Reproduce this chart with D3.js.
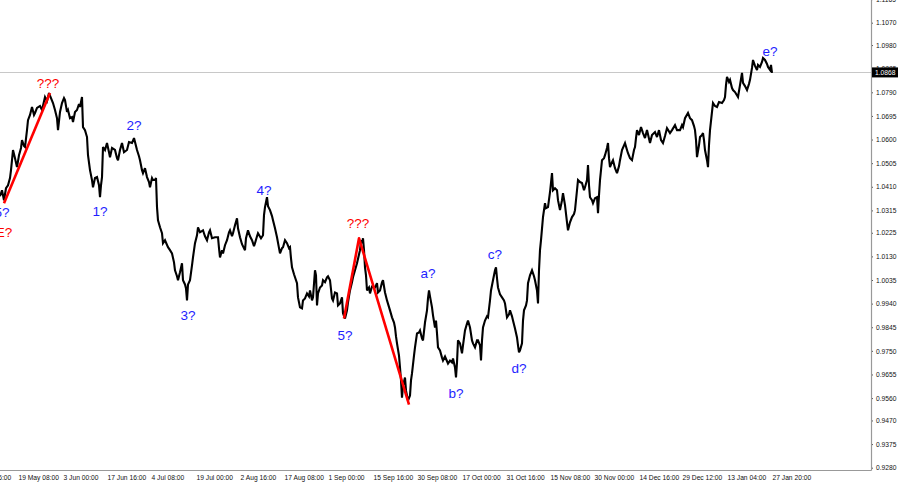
<!DOCTYPE html>
<html><head><meta charset="utf-8">
<script src="https://cdn.jsdelivr.net/npm/d3@7"></script>
<style>body{margin:0;background:#fff}svg{display:block}</style>
</head><body><svg id="c" width="900" height="485"></svg>
<script>
// [bar index, price]
const quotes = [
[0,1.0372],[2,1.0396],[4,1.0356],[6,1.0404],[8,1.0416],[10,1.0445],[11,1.0477],[12,1.0517],[13,1.0558],[15,1.0525],[17,1.0489],[19,1.0537],[21,1.0566],[22,1.0598],[24,1.0574],[25,1.0570],[27,1.0638],[28,1.0678],[30,1.0699],[32,1.0731],[34,1.0699],[35,1.0707],[37,1.0727],[40,1.0735],[42,1.0719],[45,1.0771],[47,1.0755],[49,1.0787],
[51,1.0767],[53,1.0747],[55,1.0719],[57,1.0686],[58,1.0638],[60,1.0711],[62,1.0747],[64,1.0767],[65,1.0759],[67,1.0711],[68,1.0719],[70,1.0686],[72,1.0690],[73,1.0670],[75,1.0711],[77,1.0719],[79,1.0743],[80,1.0731],[82,1.0771],[83,1.0650],[85,1.0638],[87,1.0610],[88,1.0537],[90,1.0477],[92,1.0437],[93,1.0408],[95,1.0445],[97,1.0449],[99,1.0416],[100,1.0368],
[101,1.0416],[102,1.0449],[103,1.0570],[105,1.0558],[107,1.0586],[109,1.0549],[110,1.0529],[112,1.0566],[115,1.0558],[117,1.0525],[118,1.0517],[120,1.0558],[122,1.0586],[124,1.0549],[127,1.0558],[129,1.0590],[132,1.0586],[134,1.0606],[136,1.0574],[137,1.0558],[139,1.0533],[140,1.0517],[142,1.0477],[143,1.0465],[145,1.0485],[147,1.0449],[149,1.0429],[150,1.0408],
[152,1.0445],[153,1.0437],[155,1.0437],[156,1.0445],[157,1.0328],[158,1.0275],[160,1.0247],[162,1.0223],[163,1.0183],[165,1.0195],[168,1.0167],[170,1.0155],[172,1.0142],[174,1.0106],[175,1.0074],[177,1.0050],[178,1.0034],[180,1.0066],[182,1.0102],[183,1.0034],[185,1.0017],[186,1.0001],[187,0.9953],[188,1.0017],[190,1.0034],[192,1.0094],[193,1.0126],[195,1.0183],[197,1.0215],[198,1.0247],
[200,1.0227],[203,1.0235],[205,1.0211],[207,1.0195],[209,1.0227],[210,1.0235],[212,1.0203],[215,1.0207],[218,1.0207],[219,1.0163],[220,1.0126],[222,1.0155],[223,1.0142],[225,1.0175],[227,1.0195],[229,1.0227],[230,1.0235],[232,1.0211],[233,1.0223],[235,1.0255],[237,1.0283],[238,1.0243],[240,1.0207],[242,1.0179],[245,1.0155],[246,1.0203],[248,1.0235],[250,1.0211],
[252,1.0195],[254,1.0171],[255,1.0183],[257,1.0211],[258,1.0223],[261,1.0203],[263,1.0215],[264,1.0296],[265,1.0328],[267,1.0368],[268,1.0332],[270,1.0316],[272,1.0292],[273,1.0275],[275,1.0243],[277,1.0207],[279,1.0163],[280,1.0142],[282,1.0163],[283,1.0167],[285,1.0195],[287,1.0183],[289,1.0163],[290,1.0167],[291,1.0122],[292,1.0086],[294,1.0058],[297,1.0022],[298,0.9965],
[300,0.9925],[302,0.9921],[303,0.9953],[305,0.9961],[307,0.9981],[309,0.9969],[310,0.9993],[312,0.9953],[313,0.9965],[315,1.0074],[316,1.0054],[317,0.9933],[318,0.9981],[320,1.0005],[322,1.0013],[323,1.0034],[325,1.0026],[327,1.0046],[328,1.0050],[330,1.0034],[332,0.9961],[333,0.9953],[335,0.9985],[337,0.9981],[338,0.9933],[340,0.9941],[342,0.9965],[343,0.9901],[345,0.9880],
[347,0.9913],[348,0.9945],[350,0.9993],[352,1.0026],[353,1.0046],[355,1.0074],[357,1.0102],[359,1.0138],[360,1.0155],[361,1.0195],[362,1.0183],[363,1.0203],[364,1.0155],[365,1.0086],[366,1.0054],[367,0.9993],[369,1.0005],[370,0.9981],[372,1.0009],[375,1.0005],[377,1.0022],[378,0.9985],[380,0.9993],[382,1.0026],[383,1.0034],[385,0.9985],[387,0.9953],[390,0.9913],
[392,0.9885],[394,0.9864],[395,0.9844],[396,0.9808],[397,0.9780],[399,0.9731],[400,0.9683],[401,0.9631],[402,0.9562],[403,0.9610],[405,0.9643],[406,0.9590],[408,0.9550],[410,0.9570],[411,0.9631],[412,0.9659],[414,0.9731],[415,0.9764],[417,0.9820],[419,0.9824],[420,0.9832],[422,0.9800],[423,0.9792],[425,0.9864],[427,0.9913],[428,0.9961],[429,0.9993],
[430,0.9969],[432,0.9925],[433,0.9893],[435,0.9844],[436,0.9872],[437,0.9820],[438,0.9764],[440,0.9752],[442,0.9723],[443,0.9711],[445,0.9727],[448,0.9699],[450,0.9711],[452,0.9703],[453,0.9719],[455,0.9683],[456,0.9643],[457,0.9703],[458,0.9792],[460,0.9780],[462,0.9740],[463,0.9772],[465,0.9832],[467,0.9860],[468,0.9872],[470,0.9844],[472,0.9792],[473,0.9780],
[475,0.9764],[477,0.9792],[478,0.9792],[480,0.9772],[481,0.9711],[482,0.9792],[483,0.9844],[485,0.9872],[487,0.9889],[488,0.9885],[490,0.9953],[491,0.9993],[493,1.0034],[495,1.0074],[496,1.0086],[497,1.0042],[498,1.0005],[500,0.9977],[502,0.9965],[504,0.9953],[505,0.9941],[506,0.9913],[507,0.9885],[509,0.9897],[510,0.9913],[512,0.9889],[513,0.9872],
[515,0.9840],[517,0.9804],[518,0.9772],[519,0.9744],[520,0.9752],[522,0.9780],[523,0.9872],[524,0.9913],[526,0.9933],[527,0.9953],[528,1.0022],[530,1.0054],[532,1.0074],[534,1.0050],[535,1.0034],[537,0.9993],[538,0.9941],[539,1.0074],[540,1.0155],[541,1.0195],[543,1.0288],[545,1.0344],[546,1.0324],[548,1.0328],[550,1.0388],[552,1.0465],[553,1.0396],
[555,1.0404],[557,1.0396],[558,1.0356],[560,1.0316],[562,1.0356],[563,1.0384],[565,1.0336],[567,1.0267],[568,1.0235],[570,1.0267],[572,1.0288],[574,1.0300],[575,1.0316],[577,1.0396],[578,1.0437],[580,1.0429],[582,1.0425],[584,1.0396],[585,1.0408],[587,1.0437],[588,1.0497],[589,1.0416],[590,1.0368],[592,1.0356],[593,1.0344],[595,1.0364],[597,1.0368],[598,1.0304],
[599,1.0376],[600,1.0437],[602,1.0517],[604,1.0525],[605,1.0537],[607,1.0566],[608,1.0586],[609,1.0525],[610,1.0489],[612,1.0509],[613,1.0517],[615,1.0485],[617,1.0465],[619,1.0493],[620,1.0517],[622,1.0558],[625,1.0586],[627,1.0558],[628,1.0545],[630,1.0525],[632,1.0517],[634,1.0558],[635,1.0570],[636,1.0606],[637,1.0638],[639,1.0618],[641,1.0650],
[643,1.0626],[645,1.0606],[647,1.0638],[650,1.0586],[652,1.0618],[655,1.0630],[657,1.0610],[659,1.0638],[661,1.0598],[663,1.0586],[665,1.0614],[667,1.0646],[670,1.0626],[672,1.0638],[675,1.0658],[677,1.0638],[680,1.0638],[682,1.0658],[683,1.0650],[685,1.0686],[688,1.0707],[690,1.0686],[692,1.0678],[694,1.0654],[695,1.0638],[696,1.0598],[697,1.0529],
[699,1.0578],[700,1.0610],[702,1.0618],[703,1.0626],[704,1.0598],[705,1.0558],[707,1.0517],[708,1.0489],[709,1.0578],[710,1.0638],[712,1.0711],[713,1.0747],[715,1.0735],[717,1.0731],[719,1.0751],[722,1.0747],[724,1.0759],[725,1.0771],[726,1.0819],[727,1.0852],[729,1.0832],[730,1.0840],[732,1.0807],[733,1.0799],[735,1.0791],[738,1.0771],
[740,1.0819],[742,1.0868],[743,1.0828],[745,1.0815],[747,1.0799],[749,1.0824],[750,1.0840],[752,1.0888],[753,1.0920],[755,1.0896],[757,1.0880],[758,1.0900],[760,1.0892],[762,1.0912],[763,1.0928],[765,1.0920],[767,1.0904],[768,1.0892],[770,1.0880],[771,1.0900],[772,1.0868]
];
const priceTicks = ["1.1165","1.1070","1.0980","1.0885","1.0790","1.0695","1.0600","1.0505","1.0410","1.0315","1.0225","1.0130","1.0035","0.9940","0.9845","0.9750","0.9655","0.9560","0.9470","0.9375","0.9280"];
const timeTickBars = [-28,16,61,105,149,194,238,282,326,371,415,460,504,548,592,637,680,725,770];
const timeTickLabels = ["4 May 16:00","19 May 08:00","3 Jun 00:00","17 Jun 16:00","4 Jul 08:00","19 Jul 00:00","2 Aug 16:00","17 Aug 08:00","1 Sep 00:00","15 Sep 16:00","30 Sep 08:00","17 Oct 00:00","31 Oct 16:00","15 Nov 08:00","30 Nov 00:00","14 Dec 16:00","29 Dec 12:00","13 Jan 04:00","27 Jan 20:00"];
const lastPrice = 1.0868;
const waveLines = [
  [[4,1.0344],[50,1.0787]],
  [[344,0.9880],[359,1.0203],[409,0.9534]]
];
const waveLabelText  = ["5?","E?","???","1?","2?","3?","4?","5?","???","a?","b?","c?","d?","e?"];
const waveLabelBar   = [2,4,48,100,134,188,264,345,358,428,456,495,519,770];
const waveLabelPrice = [1.0288,1.0207,1.0807,1.0292,1.0638,0.9876,1.0376,0.9792,1.0243,1.0042,0.9562,1.0118,0.9659,1.0936];
const waveLabelKind  = ["b","r","r","b","b","b","b","b","r","b","b","b","b","b"];

const plotRight = 871, axisBottom = 470;
const svg = d3.select("#c");
svg.append("rect").attr("width",900).attr("height",485).attr("fill","#fff");

const x = d3.scaleLinear().domain([0,871]).range([0,871]);
const y = d3.scaleLinear().domain([0.9280,1.1070]).range([467.7,22.7]);

// last price line
svg.append("line").attr("x1",0).attr("x2",plotRight).attr("y1",Math.round(y(lastPrice))-0.5).attr("y2",Math.round(y(lastPrice))-0.5)
  .attr("stroke","#c8c8c8").attr("stroke-width",1);

// price path
const line = d3.line().x(d=>x(d[0])).y(d=>y(d[1])).curve(d3.curveLinear);
svg.append("path").datum(quotes).attr("d",line).attr("fill","none").attr("stroke","#000").attr("stroke-width",2.1).attr("stroke-linejoin","miter").attr("stroke-miterlimit",3);

// wave lines
waveLines.forEach(w=>{
  svg.append("path").datum(w).attr("d",line).attr("fill","none").attr("stroke","#ff0000").attr("stroke-width",2.6).attr("stroke-linejoin","round");
});

// wave labels
waveLabelText.forEach((t,i)=>{
  svg.append("text").attr("x",x(waveLabelBar[i])).attr("y",y(waveLabelPrice[i]))
    .attr("text-anchor","middle").attr("font-family","Liberation Sans, Arial, sans-serif").attr("font-size",13.5)
    .attr("fill",waveLabelKind[i]==="r"?"#ff0000":"#1e1eff").text(t);
});

// axes
const fontAxis = "Liberation Sans, Arial, sans-serif";
const yAxis = d3.axisRight(y).tickValues(priceTicks.map(Number)).tickFormat((d,i)=>priceTicks[i]).tickSize(2).tickPadding(3);
const gy = svg.append("g").attr("transform",`translate(${plotRight},0)`).call(yAxis);
gy.select(".domain").remove();
gy.selectAll("line").attr("stroke","#555");
gy.selectAll("text").attr("font-family",fontAxis).attr("font-size",6.7).attr("fill","#111");

const xAxis = d3.axisBottom(x).tickValues(timeTickBars).tickFormat((d,i)=>timeTickLabels[i]).tickSize(0).tickPadding(5);
const gx = svg.append("g").attr("transform",`translate(0,${axisBottom})`).call(xAxis);
gx.select(".domain").remove();
gx.selectAll("text").attr("font-family",fontAxis).attr("font-size",6.7).attr("fill","#111").attr("text-anchor","start").attr("dx",2);

svg.append("line").attr("x1",plotRight+0.5).attr("x2",plotRight+0.5).attr("y1",0).attr("y2",axisBottom+0.5).attr("stroke","#999").attr("stroke-width",1.2);
svg.append("line").attr("x1",0).attr("x2",plotRight+0.5).attr("y1",axisBottom+0.5).attr("y2",axisBottom+0.5).attr("stroke","#999").attr("stroke-width",1.2);

// last price box
const ly = y(lastPrice);
svg.append("rect").attr("x",plotRight+1).attr("y",ly-5.5).attr("width",26).attr("height",10).attr("fill","#000");
svg.append("text").attr("x",plotRight+4).attr("y",ly+2.4).attr("font-family",fontAxis).attr("font-size",6.7).attr("fill","#fff").text(lastPrice.toFixed(4));
</script></body></html>
